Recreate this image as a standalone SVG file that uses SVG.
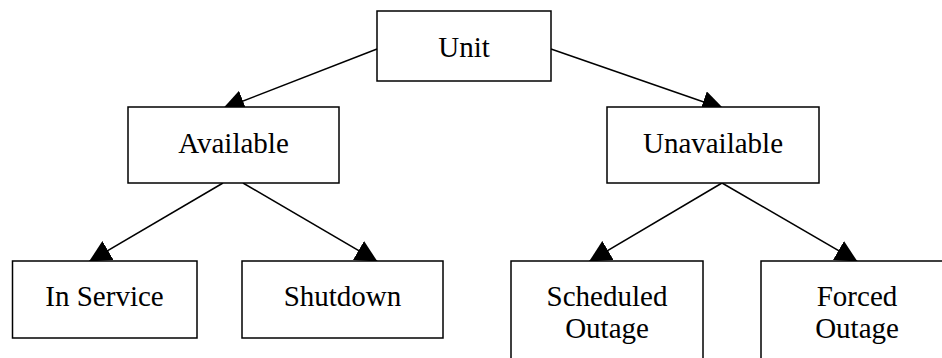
<svg xmlns="http://www.w3.org/2000/svg" width="942" height="358" viewBox="0 0 942 358">
  <style>
    .box { fill: #ffffff; stroke: #000000; stroke-width: 1.5; }
    .lbl { font-family: "Liberation Serif", "Times New Roman", serif; font-size: 29px; fill: #000000; text-anchor: middle; }
    .conn { stroke: #000000; stroke-width: 1.5; fill: none; marker-end: url(#arrow); }
  </style>
  <defs>
    <marker id="arrow" markerUnits="userSpaceOnUse" viewBox="0 0 22 22" markerWidth="22" markerHeight="22" refX="22" refY="11" orient="auto">
      <path d="M0,0 L22,11 L0,22 Z" fill="#000000"/>
    </marker>
  </defs>
  <rect width="942" height="358" fill="#ffffff"/>
  <g id="connectors">
    <line class="conn" x1="377" y1="49" x2="222.5" y2="109"/>
    <line class="conn" x1="551" y1="49" x2="724" y2="109"/>
    <line class="conn" x1="223" y1="183" x2="89" y2="261.6"/>
    <line class="conn" x1="243" y1="183" x2="377.5" y2="261.6"/>
    <line class="conn" x1="722" y1="183" x2="589" y2="261.6"/>
    <line class="conn" x1="722" y1="183" x2="857.5" y2="261.6"/>
  </g>
  <g id="unit">
    <rect class="box" x="377" y="11" width="174" height="70"/>
    <text class="lbl" x="464" y="57">Unit</text>
  </g>
  <g id="available">
    <rect class="box" x="128" y="107" width="211" height="76"/>
    <text class="lbl" x="233.5" y="153">Available</text>
  </g>
  <g id="unavailable">
    <rect class="box" x="607" y="107" width="212" height="76"/>
    <text class="lbl" x="713" y="153">Unavailable</text>
  </g>
  <g id="in-service">
    <rect class="box" x="12.5" y="261" width="184.5" height="77"/>
    <text class="lbl" x="104.5" y="306">In Service</text>
  </g>
  <g id="shutdown">
    <rect class="box" x="242" y="261" width="201" height="77"/>
    <text class="lbl" x="342.5" y="306">Shutdown</text>
  </g>
  <g id="scheduled-outage">
    <rect class="box" x="511" y="261" width="192" height="110"/>
    <text class="lbl" x="607" y="306">Scheduled</text>
    <text class="lbl" x="607" y="338">Outage</text>
  </g>
  <g id="forced-outage">
    <rect class="box" x="761" y="261" width="192" height="110"/>
    <text class="lbl" x="857" y="306">Forced</text>
    <text class="lbl" x="857" y="338">Outage</text>
  </g>
</svg>
